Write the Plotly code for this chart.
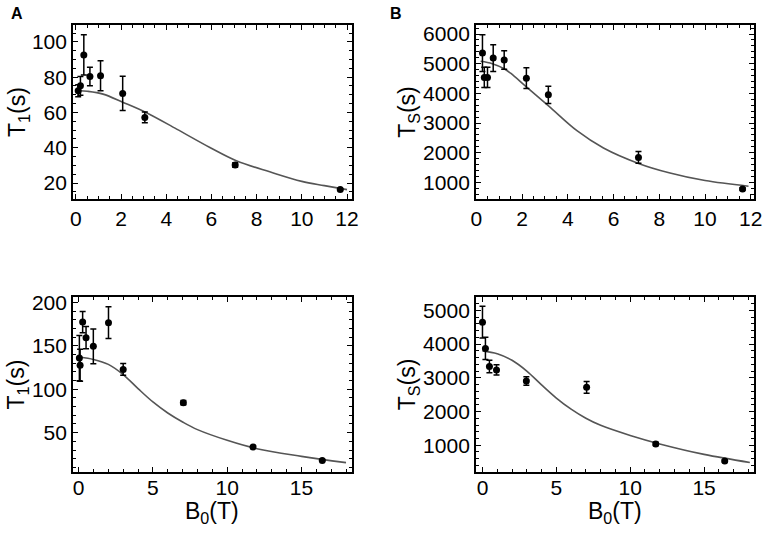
import plotly.graph_objects as go

# panel A: T1 vs field (low-field series)
a_field = [0.1, 0.2, 0.35, 0.62, 1.09, 2.07, 3.05, 7.05, 11.7]
a_t1 = [72.3, 75.1, 92.6, 80.4, 80.8, 70.8, 57.2, 30.3, 16.4]
a_err = [3.4, 5.3, 11.4, 5.2, 8.5, 9.7, 3.0, 1.3, 0.6]
a_fit_x = [0.17, 0.5, 1.2, 2.09, 3.1, 4.46, 5.93, 7.1, 8.58, 10.0, 11.0, 12.0]
a_fit_y = [72.3, 72.0, 70.4, 65.7, 60.0, 50.6, 40.2, 32.7, 26.4, 21.0, 18.6, 16.3]

# panel B: Ts vs field
b_field = [0.27, 0.35, 0.49, 0.74, 1.22, 2.19, 3.15, 7.09, 11.64]
b_ts = [5360, 4537, 4537, 5191, 5124, 4510, 3950, 1841, 775]
b_err = [620, 340, 340, 450, 310, 350, 290, 200, 40]
b_fit_x = [0.19, 0.7, 1.22, 1.5, 2.19, 3.17, 4.4, 5.56, 7.09, 8.47, 10.0, 11.9]
b_fit_y = [5080, 5000, 4830, 4680, 4220, 3570, 2741, 2158, 1639, 1315, 1060, 870]

# panel C: T1 vs field, extended range
c_field = [0.05, 0.1, 0.27, 0.5, 0.99, 2.01, 3.0, 7.05, 11.74, 16.4]
c_t1 = [136, 127.7, 177.6, 159.6, 149.6, 176.9, 123, 84.6, 33.5, 18]
c_err = [26, 18.5, 12.3, 12.8, 20, 18.3, 6.8, 2.5, 1.5, 1.0]
c_fit_x = [0.1, 1, 2, 3, 4, 5, 6, 7, 8, 10, 12, 15, 18]
c_fit_y = [137, 134.5, 128.8, 117, 100.8, 85.4, 72.7, 62.3, 53.5, 41.2, 31.5, 22.7, 15.4]

# panel D: Ts vs field, extended range
d_field = [0.0, 0.2, 0.47, 0.95, 2.97, 7.05, 11.73, 16.4]
d_ts = [4650, 3870, 3333, 3234, 2906, 2717, 1040, 533]
d_err = [470, 330, 185, 150, 125, 175, 50, 30]
d_fit_x = [0, 1, 2, 3, 4, 5, 6, 7, 8, 10, 12, 15, 18.1]
d_fit_y = [3800, 3715, 3520, 3200, 2790, 2400, 2070, 1800, 1590, 1290, 1040, 730, 490]

FONT = "Liberation Sans, Arial, sans-serif"
fit_color = "#555555"

fig = go.Figure()

panels = [
    (a_field, a_t1, a_err, a_fit_x, a_fit_y, "x", "y"),
    (b_field, b_ts, b_err, b_fit_x, b_fit_y, "x2", "y2"),
    (c_field, c_t1, c_err, c_fit_x, c_fit_y, "x3", "y3"),
    (d_field, d_ts, d_err, d_fit_x, d_fit_y, "x4", "y4"),
]

for fx, fy, ferr, cx, cy, xa, ya in panels:
    fig.add_trace(go.Scatter(x=cx, y=cy, mode="lines",
                             line=dict(color=fit_color, width=1.6, shape="spline", smoothing=1.0),
                             xaxis=xa, yaxis=ya, showlegend=False, hoverinfo="skip"))
    fig.add_trace(go.Scatter(x=fx, y=fy, mode="markers", marker=dict(color="black", size=7),
                             error_y=dict(type="data", array=ferr, color="black", thickness=1.5, width=3),
                             xaxis=xa, yaxis=ya, showlegend=False))

axis_style = dict(
    showline=True, linecolor="black", linewidth=1.6, mirror="ticks",
    ticks="inside", ticklen=5, tickwidth=1, tickcolor="black",
    showgrid=False, zeroline=False, automargin=False,
    tickfont=dict(family=FONT, size=21, color="black"),
    minor=dict(ticks="inside", ticklen=3, tickwidth=1, tickcolor="black", showgrid=False),
)
title_font = dict(family=FONT, size=23, color="black")

top_y = [0.6266, 0.953]
bot_y = [0.1144, 0.4428]
left_x = [0.0954, 0.4601]
right_x = [0.622, 0.9856]

fig.update_layout(
    width=765, height=533,
    margin=dict(l=0, r=0, t=0, b=0),
    paper_bgcolor="white", plot_bgcolor="white",
    font=dict(family=FONT, color="black"),
    xaxis=dict(axis_style, domain=left_x, anchor="y", range=[-0.13, 12.22],
               tick0=0, dtick=2, minor_dtick=0.5, ticklabelstandoff=0),
    yaxis=dict(axis_style, domain=top_y, anchor="x", range=[11, 109.5],
               tick0=0, dtick=20, minor_dtick=5,
               title=dict(text="T<sub>1</sub>(s)", font=title_font, standoff=0)),
    xaxis2=dict(axis_style, domain=right_x, anchor="y2", range=[-0.02, 12.14],
                tick0=0, dtick=2, minor_dtick=0.5, ticklabelstandoff=0),
    yaxis2=dict(axis_style, domain=top_y, anchor="x2", range=[438, 6303],
                tick0=0, dtick=1000, minor_dtick=200,
                title=dict(text="T<sub>S</sub>(s)", font=title_font, standoff=0)),
    xaxis3=dict(axis_style, domain=left_x, anchor="y3", range=[-0.38, 18.4],
                tick0=0, dtick=5, minor_dtick=1, ticklabelstandoff=-4),
    yaxis3=dict(axis_style, domain=bot_y, anchor="x3", range=[4.6, 206.5],
                tick0=0, dtick=50, minor_dtick=10,
                title=dict(text="T<sub>1</sub>(s)", font=title_font, standoff=0)),
    xaxis4=dict(axis_style, domain=right_x, anchor="y4", range=[-0.45, 18.38],
                tick0=0, dtick=5, minor_dtick=1, ticklabelstandoff=-4),
    yaxis4=dict(axis_style, domain=bot_y, anchor="x4", range=[206, 5397],
                tick0=0, dtick=1000, minor_dtick=200,
                title=dict(text="T<sub>S</sub>(s)", font=title_font, standoff=0)),
    annotations=[
        dict(text="<b>A</b>", x=9 / 765, y=1 - 3 / 533, xref="paper", yref="paper",
             xanchor="left", yanchor="top", showarrow=False, font=dict(family=FONT, size=16)),
        dict(text="<b>B</b>", x=388 / 765, y=1 - 3 / 533, xref="paper", yref="paper",
             xanchor="left", yanchor="top", showarrow=False, font=dict(family=FONT, size=16)),
        dict(text="B<sub>0</sub>(T)", x=sum(left_x) / 2, y=1 - 512 / 533, xref="paper", yref="paper",
             xanchor="center", yanchor="middle", showarrow=False, font=title_font),
        dict(text="B<sub>0</sub>(T)", x=sum(right_x) / 2, y=1 - 512 / 533, xref="paper", yref="paper",
             xanchor="center", yanchor="middle", showarrow=False, font=title_font),
    ],
)

# drop the default page margin so the 765x533 figure fills the window
fig.write_html("out.html", config={"displayModeBar": False},
               post_script="document.body.style.margin = '0';")
